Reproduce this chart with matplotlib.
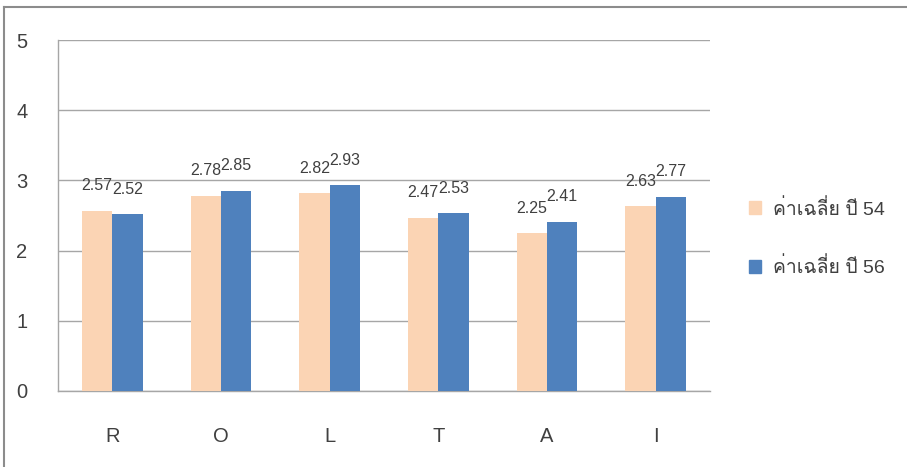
import matplotlib
matplotlib.use("Agg")
import matplotlib.pyplot as plt
import matplotlib.font_manager as fm
from matplotlib.ft2font import FT2Font
from matplotlib.lines import Line2D
from matplotlib.patches import Patch
import numpy as np

categories = ["R", "O", "L", "T", "A", "I"]
year54 = [2.57, 2.78, 2.82, 2.47, 2.25, 2.63]
year56 = [2.52, 2.85, 2.93, 2.53, 2.41, 2.77]
series_names = ["ค่าเฉลี่ย ปี 54", "ค่าเฉลี่ย ปี 56"]
yticks = [0, 1, 2, 3, 4, 5]

# find a font with Thai glyphs
thai = None
for f in fm.fontManager.ttflist:
    try:
        cm = FT2Font(f.fname).get_charmap()
        if 0x0E04 in cm and 0x0E48 in cm and 0x0E25 in cm:
            thai = f.name
            break
    except Exception:
        pass
fams = ["Liberation Sans"]
if thai:
    fams.append(thai)
fams.append("DejaVu Sans")
plt.rcParams["font.family"] = fams

c54 = "#FBD4B4"
c56 = "#4F81BD"
txt = "#404040"
grid = "#A6A6A6"

fig = plt.figure(figsize=(9.07, 4.67), dpi=100)
ax = fig.add_axes([58/907, 1-391/467, (710-58)/907, (391-40)/467])

x = np.arange(len(categories))
w = 0.28
ax.bar(x - w/2, year54, w, color=c54, label=series_names[0], zorder=3)
ax.bar(x + w/2, year56, w, color=c56, label=series_names[1], zorder=3)

for xi, v in zip(x - w/2, year54):
    ax.annotate(f"{v:.2f}", (xi, v), xytext=(0, 18), textcoords="offset points",
                ha="center", va="center", fontsize=11.5, color=txt)
for xi, v in zip(x + w/2, year56):
    ax.annotate(f"{v:.2f}", (xi, v), xytext=(0, 18), textcoords="offset points",
                ha="center", va="center", fontsize=11.5, color=txt)

ax.set_xlim(-0.5, len(categories) - 0.5)
ax.set_ylim(0, 5)
ax.set_yticks(yticks)
ax.set_xticks(x)
ax.set_xticklabels(categories)
ax.yaxis.grid(True, color=grid, linewidth=1.0, zorder=0)
ax.set_axisbelow(True)
for s in ["top", "right"]:
    ax.spines[s].set_visible(False)
for s in ["left", "bottom"]:
    ax.spines[s].set_color(grid)
    ax.spines[s].set_linewidth(1.0)
ax.tick_params(axis="y", length=0, pad=22, labelsize=14.5, labelcolor=txt)
ax.tick_params(axis="x", length=0, pad=26, labelsize=14.5, labelcolor=txt)

fig.legend(handles=[Patch(color=c54), Patch(color=c56)], labels=series_names,
           loc="center left", bbox_to_anchor=(731/907, 1-238/467), frameon=False,
           handlelength=0.65, handleheight=0.65, handletextpad=0.6,
           labelspacing=2.0, fontsize=14, labelcolor=txt)

# outer frame (left and top only)
fig.add_artist(Line2D([3.5/907, 3.5/907], [0, 1-6.5/467], color="#8C8C8C", lw=1.5,
                      transform=fig.transFigure))
fig.add_artist(Line2D([3.5/907, 1], [1-6.5/467, 1-6.5/467], color="#8C8C8C", lw=1.5,
                      transform=fig.transFigure))

fig.savefig("out.png", dpi=100)
